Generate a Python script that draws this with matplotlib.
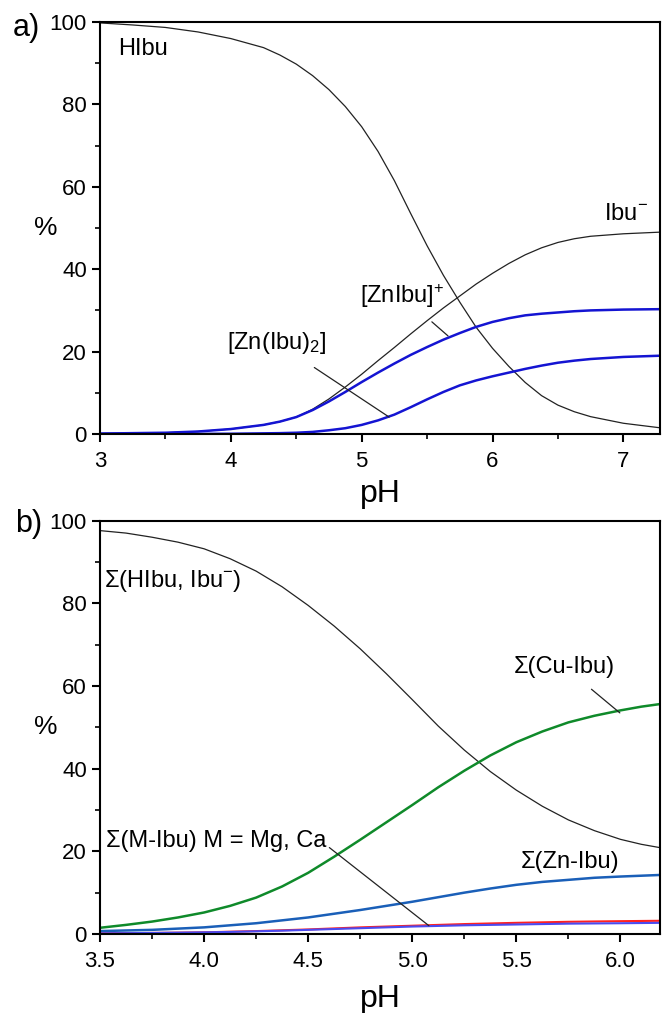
import matplotlib
matplotlib.use('Agg')
import matplotlib.pyplot as plt
from matplotlib.ticker import MultipleLocator

plt.rcParams['font.family'] = ['Liberation Sans', 'DejaVu Sans']
plt.rcParams['mathtext.fontset'] = 'custom'
plt.rcParams['mathtext.rm'] = 'Liberation Sans'
plt.rcParams['mathtext.it'] = 'Liberation Sans'

# panel a) speciation, Zn
ph_a = [3.0, 3.25, 3.5, 3.75, 4.0, 4.25, 4.375, 4.5, 4.625, 4.75, 4.875, 5.0,
        5.125, 5.25, 5.375, 5.5, 5.625, 5.75, 5.875, 6.0, 6.125, 6.25, 6.375,
        6.5, 6.625, 6.75, 7.0, 7.28]
hibu = [99.8, 99.3, 98.7, 97.6, 96.0, 93.8, 92.0, 89.8, 87.0, 83.6, 79.5, 74.6,
        68.6, 61.5, 53.5, 45.7, 38.5, 32.0, 25.9, 20.8, 16.4, 12.5, 9.3,
        7.0, 5.4, 4.2, 2.6, 1.5]
ibu = [0.1, 0.2, 0.3, 0.6, 1.2, 2.2, 3.0, 4.1, 6.0, 8.5, 11.4, 14.5,
       17.8, 21.0, 24.3, 27.5, 30.6, 33.5, 36.4, 39.0, 41.4, 43.5, 45.2,
       46.5, 47.4, 48.0, 48.6, 49.0]
znibu = [0.1, 0.2, 0.3, 0.6, 1.2, 2.2, 3.0, 4.1, 5.8, 7.9, 10.2, 12.6,
         14.9, 17.1, 19.2, 21.1, 22.9, 24.5, 26.0, 27.2, 28.1, 28.8, 29.2,
         29.5, 29.8, 30.0, 30.2, 30.3]
znibu2 = [0.0, 0.0, 0.0, 0.02, 0.05, 0.15, 0.2, 0.3, 0.5, 0.9, 1.4, 2.2,
          3.3, 4.7, 6.5, 8.4, 10.2, 11.8, 13.0, 14.0, 14.9, 15.8, 16.6,
          17.3, 17.8, 18.2, 18.7, 19.0]

# panel b) sums, several metals
ph_b = [3.5, 3.625, 3.75, 3.875, 4.0, 4.125, 4.25, 4.375, 4.5, 4.625, 4.75,
        4.875, 5.0, 5.125, 5.25, 5.375, 5.5, 5.625, 5.75, 5.875, 6.0, 6.1, 6.2]
sum_ibu = [97.6, 97.0, 96.0, 94.8, 93.2, 90.8, 87.8, 84.0, 79.5, 74.5, 69.0,
           63.0, 56.7, 50.3, 44.5, 39.3, 34.8, 30.9, 27.6, 25.0, 22.9, 21.7, 20.8]
sum_cu = [1.5, 2.2, 3.0, 4.0, 5.2, 6.8, 8.8, 11.5, 14.8, 18.7, 22.8,
          27.0, 31.2, 35.5, 39.5, 43.2, 46.4, 49.0, 51.2, 52.8, 54.1, 55.0, 55.7]
sum_zn = [0.7, 0.85, 1.0, 1.3, 1.6, 2.1, 2.6, 3.3, 4.0, 4.9, 5.8,
          6.8, 7.8, 8.9, 10.0, 11.0, 11.9, 12.6, 13.1, 13.6, 13.9, 14.1, 14.3]
sum_mg = [0.15, 0.2, 0.25, 0.32, 0.4, 0.55, 0.7, 0.9, 1.1, 1.35, 1.6,
          1.8, 2.0, 2.2, 2.4, 2.55, 2.7, 2.82, 2.95, 3.03, 3.1, 3.15, 3.2]
sum_ca = [0.15, 0.2, 0.25, 0.32, 0.4, 0.5, 0.65, 0.8, 1.0, 1.2, 1.4,
          1.6, 1.8, 1.95, 2.1, 2.2, 2.3, 2.4, 2.5, 2.55, 2.6, 2.65, 2.7]

fig = plt.figure(figsize=(6.62, 10.13), dpi=100)
ax1 = fig.add_axes([0.151, 0.5716, 0.846, 0.4066])
ax2 = fig.add_axes([0.151, 0.078, 0.846, 0.408])

for ax in (ax1, ax2):
    for s in ax.spines.values():
        s.set_linewidth(1.5)
    ax.set_ylim(0, 100)
    ax.yaxis.set_major_locator(MultipleLocator(20))
    ax.yaxis.set_minor_locator(MultipleLocator(10))
    ax.tick_params(which='major', direction='out', length=6, width=1.5,
                   labelsize=16, top=False, right=False)
    ax.tick_params(axis='x', which='major', pad=6)
    ax.tick_params(axis='y', which='major', pad=3.5)
    ax.tick_params(which='minor', direction='out', length=3.5, width=1.2,
                   top=False, right=False)
    ax.set_xlabel('pH', fontsize=23, va='baseline')
    ax.set_ylabel('%', fontsize=19, rotation=0, va='center', ha='center')
    ax.yaxis.set_label_coords(-0.096, 0.5)

ax1.xaxis.set_label_coords(0.5, -0.165)
ax2.xaxis.set_label_coords(0.5, -0.177)

# a)
ax1.plot(ph_a, hibu, color='#222222', lw=0.9)
ax1.plot(ph_a, ibu, color='#222222', lw=0.9)
ax1.plot(ph_a, znibu, color='#1414d2', lw=1.8)
ax1.plot(ph_a, znibu2, color='#1414d2', lw=1.8)
ax1.set_xlim(3, 7.28)
ax1.xaxis.set_major_locator(MultipleLocator(1))
ax1.xaxis.set_minor_locator(MultipleLocator(0.5))

ax1.text(3.33, 93.5, 'HIbu', fontsize=17, ha='center', va='center')
ax1.text(7.02, 53.5, 'Ibu$^{-}$', fontsize=17, ha='center', va='center')
ax1.annotate('[ZnIbu]$^{+}$', xy=(5.66, 23.8), xytext=(5.31, 33.5),
             fontsize=17, ha='center', va='center',
             arrowprops=dict(arrowstyle='-', color='#222222', lw=0.9,
                             shrinkA=10, shrinkB=0))
ax1.annotate('[Zn(Ibu)$_{2}$]', xy=(5.21, 4.1), xytext=(4.35, 22.2),
             fontsize=17, ha='center', va='center',
             arrowprops=dict(arrowstyle='-', color='#222222', lw=0.9,
                             shrinkA=12, shrinkB=0))
fig.text(0.040, 0.972, 'a)', fontsize=22, ha='center', va='center')

# b)
ax2.plot(ph_b, sum_ibu, color='#222222', lw=0.9)
ax2.plot(ph_b, sum_cu, color='#0f8a2a', lw=1.8)
ax2.plot(ph_b, sum_zn, color='#1a5fb8', lw=1.8)
ax2.plot(ph_b, sum_mg, color='#ff2020', lw=1.5)
ax2.plot(ph_b, sum_ca, color='#4a4af0', lw=1.5)
ax2.set_xlim(3.5, 6.19)
ax2.xaxis.set_major_locator(MultipleLocator(0.5))
ax2.xaxis.set_minor_locator(MultipleLocator(0.25))
ax2.xaxis.set_major_formatter(plt.FormatStrFormatter('%.1f'))

ax2.text(3.52, 85.5, 'Σ(HIbu, Ibu$^{-}$)', fontsize=17, ha='left', va='center')
ax2.annotate('Σ(Cu-Ibu)', xy=(5.997, 53.5), xytext=(5.73, 64.7),
             fontsize=17, ha='center', va='center',
             arrowprops=dict(arrowstyle='-', color='#222222', lw=0.9,
                             shrinkA=10, shrinkB=0))
ax2.text(5.76, 17.5, 'Σ(Zn-Ibu)', fontsize=17, ha='center', va='center')
ax2.annotate('Σ(M-Ibu) M = Mg, Ca', xy=(5.08, 2.0), xytext=(3.53, 22.5),
             fontsize=17, ha='left', va='center',
             arrowprops=dict(arrowstyle='-', color='#222222', lw=0.9,
                             shrinkA=0, shrinkB=0,
                             relpos=(1.0, 0.3)))
fig.text(0.044, 0.483, 'b)', fontsize=22, ha='center', va='center')

fig.savefig('out.png', dpi=100)
